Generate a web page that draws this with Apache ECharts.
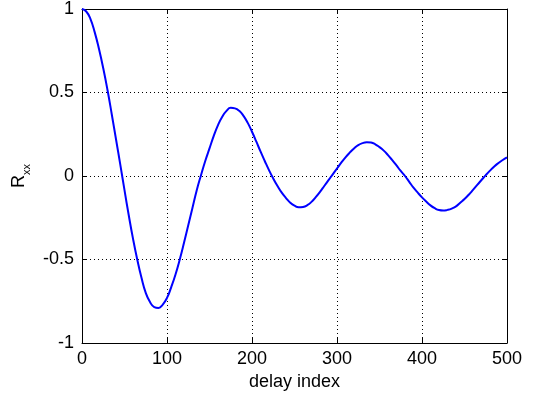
<!DOCTYPE html>
<html>
<head>
<meta charset="utf-8"/>
<title>Rxx</title>
<script src="https://cdn.jsdelivr.net/npm/echarts@6/dist/echarts.min.js"></script>
<style>
  html, body { margin: 0; padding: 0; background: #fff; }
  #main { width: 560px; height: 396px; }
</style>
</head>
<body>
<div id="main"></div>
<script type="text/javascript">
// delay index (x) and autocorrelation values
var delays = [0, 5, 10, 15, 20, 25, 30, 35, 40, 45, 50, 55, 60, 65, 70, 75, 80, 85, 90, 95,
  100, 105, 110, 115, 120, 125, 130, 135, 140, 145, 150, 155, 160, 165, 170, 175, 180, 185, 190, 195,
  200, 205, 210, 215, 220, 225, 230, 235, 240, 245, 250, 255, 260, 265, 270, 275, 280, 285, 290, 295,
  300, 305, 310, 315, 320, 325, 330, 335, 340, 345, 350, 355, 360, 365, 370, 375, 380, 385, 390, 395,
  400, 405, 410, 415, 420, 425, 430, 435, 440, 445, 450, 455, 460, 465, 470, 475, 480, 485, 490, 495, 500];
var rxx = [1.0, 0.985, 0.94, 0.86, 0.76, 0.645, 0.515, 0.37, 0.22, 0.07, -0.085, -0.235, -0.375, -0.50, -0.61, -0.70, -0.755, -0.785, -0.79, -0.77,
  -0.73, -0.665, -0.59, -0.50, -0.40, -0.295, -0.19, -0.085, 0.005, 0.09, 0.165, 0.24, 0.305, 0.355, 0.39, 0.408, 0.405, 0.39, 0.36, 0.318,
  0.265, 0.207, 0.147, 0.09, 0.035, -0.015, -0.06, -0.10, -0.132, -0.16, -0.178, -0.187, -0.185, -0.175, -0.155, -0.127, -0.095, -0.06, -0.025, 0.01,
  0.045, 0.08, 0.112, 0.14, 0.165, 0.185, 0.197, 0.202, 0.2, 0.19, 0.173, 0.152, 0.125, 0.095, 0.063, 0.03, 0.0, -0.035, -0.07, -0.1,
  -0.128, -0.153, -0.176, -0.193, -0.204, -0.207, -0.203, -0.195, -0.182, -0.16, -0.138, -0.112, -0.083, -0.053, -0.024, 0.005, 0.032, 0.057, 0.078, 0.096, 0.112];

var xTicks = { min: 0, max: 500, interval: 100 };
var yTicks = { min: -1, max: 1, interval: 0.5 };

var chart = echarts.init(document.getElementById('main'));
var font = 'Liberation Sans, Arial, sans-serif';

var points = delays.map(function (d, i) { return [d, rxx[i]]; });

var option = {
  animation: false,
  backgroundColor: '#fff',
  grid: { left: 82, right: 53, top: 8, bottom: 53 },
  xAxis: [{
    type: 'value',
    min: xTicks.min, max: xTicks.max, interval: xTicks.interval,
    name: 'delay index',
    nameLocation: 'middle',
    nameGap: 27,
    nameTextStyle: { color: '#000', fontSize: 18, fontFamily: font },
    axisLine: { onZero: false, lineStyle: { color: '#000', width: 1 } },
    axisTick: { inside: true, length: 5, lineStyle: { color: '#000' } },
    axisLabel: { color: '#000', fontSize: 18, fontFamily: font, margin: 7 },
    splitLine: { show: true, lineStyle: { color: '#000', type: [1, 3], width: 1 } }
  }, {
    type: 'value', position: 'top',
    min: xTicks.min, max: xTicks.max, interval: xTicks.interval,
    axisLine: { show: true, onZero: false, lineStyle: { color: '#000', width: 1 } },
    axisTick: { inside: true, length: 5, lineStyle: { color: '#000' } },
    axisLabel: { show: false },
    splitLine: { show: false }
  }],
  yAxis: [{
    type: 'value',
    min: yTicks.min, max: yTicks.max, interval: yTicks.interval,
    name: '{r|R}{s|xx}',
    nameLocation: 'middle',
    nameGap: 50,
    nameTextStyle: {
      rich: {
        r: { color: '#000', fontSize: 18, fontFamily: font, verticalAlign: 'bottom' },
        s: { color: '#000', fontSize: 11, fontFamily: font, verticalAlign: 'bottom', padding: [0, 0, -4, 0] }
      }
    },
    axisLine: { onZero: false, lineStyle: { color: '#000', width: 1 } },
    axisTick: { inside: true, length: 5, lineStyle: { color: '#000' } },
    axisLabel: { color: '#000', fontSize: 18, fontFamily: font, margin: 8 },
    splitLine: { show: true, lineStyle: { color: '#000', type: [1, 3], width: 1 } }
  }, {
    type: 'value', position: 'right',
    min: yTicks.min, max: yTicks.max, interval: yTicks.interval,
    axisLine: { show: true, onZero: false, lineStyle: { color: '#000', width: 1 } },
    axisTick: { inside: true, length: 5, lineStyle: { color: '#000' } },
    axisLabel: { show: false },
    splitLine: { show: false }
  }],
  series: [{
    type: 'line',
    data: points,
    smooth: true,
    showSymbol: false,
    lineStyle: { color: '#0000ff', width: 2 }
  }]
};

chart.setOption(option);
</script>
</body>
</html>
